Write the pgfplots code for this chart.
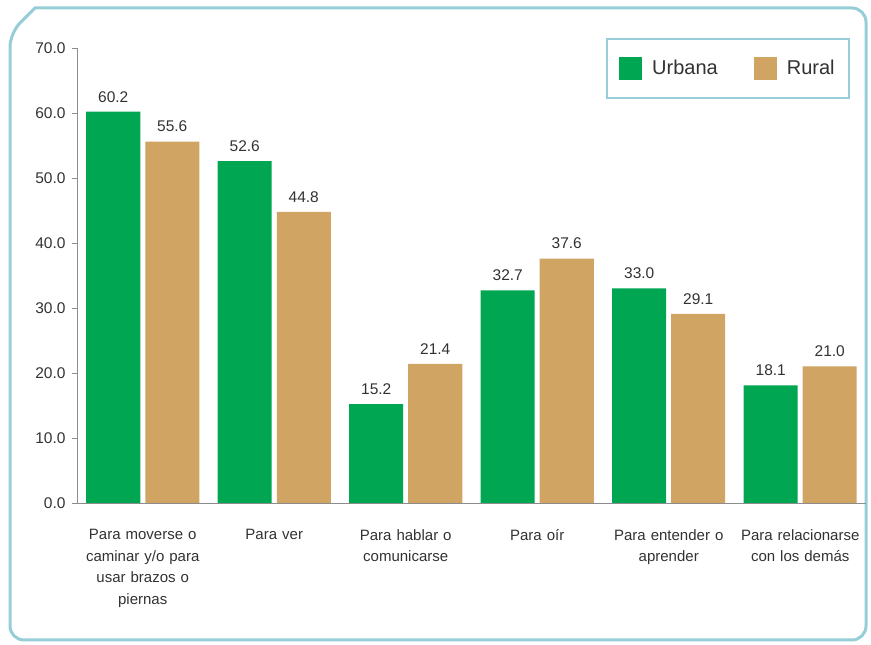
\documentclass[border=0pt]{standalone}
\usepackage{pgfplots}
\pgfplotsset{compat=1.18}
\usepackage{fontspec}
\setmainfont{Liberation Sans}
\definecolor{urbana}{RGB}{0,166,81}
\definecolor{rural}{RGB}{208,164,98}
\definecolor{frame}{RGB}{150,205,215}
\definecolor{axisgray}{RGB}{140,140,140}
\definecolor{txt}{RGB}{50,50,50}

\begin{document}
\begin{tikzpicture}
\useasboundingbox (0,0) rectangle (871pt,645pt);
% outer frame
\draw[frame, line width=3pt, rounded corners=14pt]
  (10pt,5pt) -- (10pt,612pt) [sharp corners] -- (35pt,637pt) [rounded corners=14pt] -- (866pt,637pt) -- (866pt,5pt) -- cycle;
\begin{axis}[
    at={(77pt,142pt)}, anchor=south west,
    scale only axis,
    width=789pt, height=455pt,
    ybar=5pt, bar width=54pt,
    xmin=-0.5, xmax=5.5,
    ymin=0, ymax=70,
    axis x line*=bottom, axis y line*=left,
    axis line style={axisgray, line width=0.8pt},
    tick align=outside,
    ytick={0,10,...,70},
    yticklabel style={font=\fontsize{15.5}{18}\selectfont, text=txt, xshift=-3pt,
      /pgf/number format/fixed, /pgf/number format/fixed zerofill,
      /pgf/number format/precision=1, /pgf/number format/assume math mode=true},
    ytick style={axisgray, line width=0.8pt}, major tick length=5pt,
    xtick={0,...,5},
    x tick style={draw=none},
    minor xtick={-0.5,0.5,...,5.5},
    minor x tick style={axisgray, line width=0.8pt}, minor tick length=5pt,
    xticklabels={
      {Para moverse o\\caminar y/o para\\usar brazos o\\piernas},
      {Para ver},
      {Para hablar o\\comunicarse},
      {Para oír},
      {Para entender o\\aprender},
      {Para relacionarse\\con los demás}},
    xticklabel style={font=\fontsize{15}{21.5}\selectfont, text=txt, align=center, text width=130pt, yshift=-18pt},
    nodes near coords,
    nodes near coords style={font=\fontsize{15.5}{18}\selectfont, text=txt,
      /pgf/number format/fixed, /pgf/number format/fixed zerofill,
      /pgf/number format/precision=1, /pgf/number format/assume math mode=true},
    every node near coord/.append style={yshift=6pt},
    legend style={at={(0.825,0.956)}, anchor=center, draw=frame, line width=2pt,
      font=\fontsize{20}{23}\selectfont, text=txt, legend columns=2,
      inner xsep=12pt, inner ysep=18pt,
      /tikz/every even column/.append style={column sep=34pt}},
    legend image code/.code={\fill[#1] (0pt,-11.5pt) rectangle (23pt,11.5pt); \path (31pt,0pt);},
]
\addplot[fill=urbana, draw=none] coordinates {(0,60.2) (1,52.6) (2,15.2) (3,32.7) (4,33.0) (5,18.1)};
\addplot[fill=rural, draw=none] coordinates {(0,55.6) (1,44.8) (2,21.4) (3,37.6) (4,29.1) (5,21.0)};
\legend{Urbana, Rural}
\end{axis}
\end{tikzpicture}
\end{document}
